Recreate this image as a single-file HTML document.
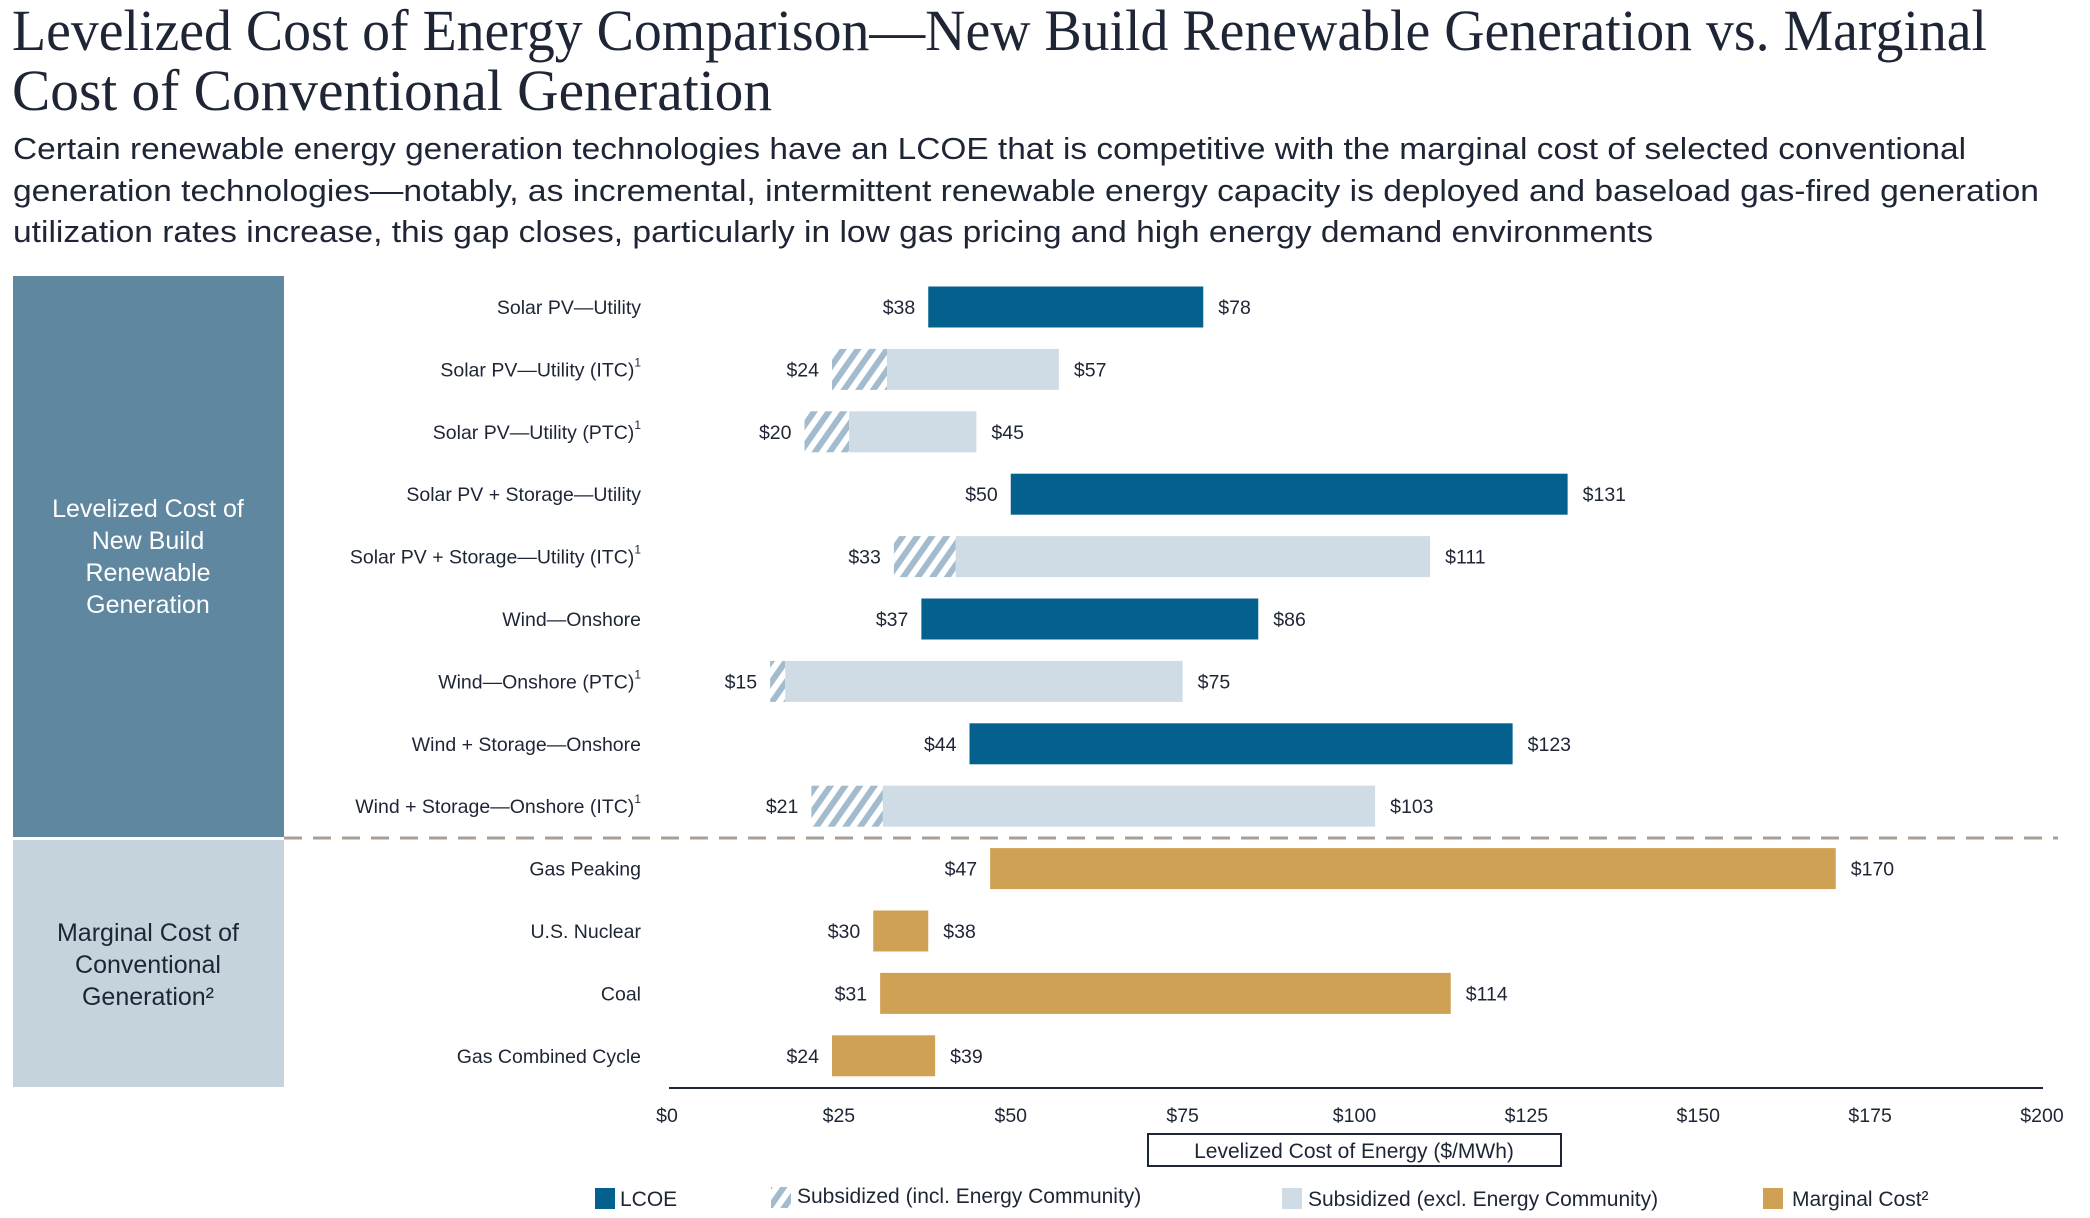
<!DOCTYPE html>
<html><head><meta charset="utf-8"><style>
html,body{margin:0;padding:0;background:#fff;}
svg{display:block;}
text{font-family:"Liberation Sans",sans-serif;fill:#1e2535;}
</style></head><body>
<svg id="chart" width="2090" height="1218" viewBox="0 0 2090 1218" xmlns="http://www.w3.org/2000/svg">
<defs>
<pattern id="hatch" patternUnits="userSpaceOnUse" width="12" height="12" patternTransform="rotate(35)">
<rect width="12" height="12" fill="#ffffff"/><rect width="6" height="12" fill="#a3bccd"/>
</pattern>
</defs>
<g>
<text x="12" y="50" style="font-family:'Liberation Serif',serif" font-size="58" textLength="1975" lengthAdjust="spacingAndGlyphs">Levelized Cost of Energy Comparison—New Build Renewable Generation vs. Marginal</text>
<text x="12" y="110" style="font-family:'Liberation Serif',serif" font-size="58" textLength="760" lengthAdjust="spacingAndGlyphs">Cost of Conventional Generation</text>
</g>
<g>
<text x="13" y="159" font-size="31" textLength="1953" lengthAdjust="spacingAndGlyphs">Certain renewable energy generation technologies have an LCOE that is competitive with the marginal cost of selected conventional</text>
<text x="13" y="201" font-size="31" textLength="2026" lengthAdjust="spacingAndGlyphs">generation technologies—notably, as incremental, intermittent renewable energy capacity is deployed and baseload gas-fired generation</text>
<text x="13" y="242" font-size="31" textLength="1640" lengthAdjust="spacingAndGlyphs">utilization rates increase, this gap closes, particularly in low gas pricing and high energy demand environments</text>
</g>
<rect x="13" y="276" width="271" height="561" fill="#5f87a0"/>
<rect x="13" y="840" width="271" height="247" fill="#c5d3dc"/>
<g font-size="25" text-anchor="middle">
<text x="148" y="517" style="fill:#fff">Levelized Cost of</text>
<text x="148" y="549" style="fill:#fff">New Build</text>
<text x="148" y="581" style="fill:#fff">Renewable</text>
<text x="148" y="613" style="fill:#fff">Generation</text>
</g>
<g font-size="25" text-anchor="middle">
<text x="148" y="941">Marginal Cost of</text>
<text x="148" y="973">Conventional</text>
<text x="148" y="1005">Generation²</text>
</g>
<line x1="284" y1="838" x2="2058" y2="838" stroke="#ab9f94" stroke-width="3" stroke-dasharray="18 11"/>
<g id="bars"></g>
<line x1="669" y1="1088" x2="2043" y2="1088" stroke="#1e2535" stroke-width="2"/>
<g id="ticks"></g>
<rect x="1148" y="1134" width="413" height="32" fill="none" stroke="#1e2535" stroke-width="2"/>
<text x="1354" y="1158" font-size="21" text-anchor="middle">Levelized Cost of Energy ($/MWh)</text>
<g font-size="21">
<rect x="595" y="1188" width="20" height="21" fill="#04618e"/>
<text x="620" y="1206">LCOE</text>
<rect x="771" y="1187" width="20" height="21" fill="url(#hatch)"/>
<text x="797" y="1203">Subsidized (incl. Energy Community)</text>
<rect x="1282" y="1188" width="20" height="21" fill="#cfdce6"/>
<text x="1308" y="1206">Subsidized (excl. Energy Community)</text>
<rect x="1763" y="1188" width="20" height="21" fill="#cfa154"/>
<text x="1792" y="1206">Marginal Cost²</text>
</g>
</svg>
<script>
const categories = ["Solar PV—Utility","Solar PV—Utility (ITC)","Solar PV—Utility (PTC)","Solar PV + Storage—Utility","Solar PV + Storage—Utility (ITC)","Wind—Onshore","Wind—Onshore (PTC)","Wind + Storage—Onshore","Wind + Storage—Onshore (ITC)","Gas Peaking","U.S. Nuclear","Coal","Gas Combined Cycle"];
const footnote = [false,true,true,false,true,false,true,false,true,false,false,false,false];
const lowValues = [38,24,20,50,33,37,15,44,21,47,30,31,24];
const highValues = [78,57,45,131,111,86,75,123,103,170,38,114,39];
const hatchEnd = [null,32,26.5,null,42,null,17.2,null,31.4,null,null,null,null];
const barType = ["lcoe","sub","sub","lcoe","sub","lcoe","sub","lcoe","sub","marg","marg","marg","marg"];
const ticks = [0,25,50,75,100,125,150,175,200];

const NS = "http://www.w3.org/2000/svg";
const X0 = 667, X1 = 2042, Y0 = 307, STEP = 62.4, BH = 41;
function xs(v){ return X0 + (X1 - X0) * v / 200; }
function yc(i){ return Y0 + i * STEP; }
function mk(tag, attrs, parent){ const e = document.createElementNS(NS, tag); for (const k in attrs) e.setAttribute(k, attrs[k]); parent.appendChild(e); return e; }
const colors = {lcoe:"#04618e", sub:"#cfdce6", marg:"#cfa154"};
const bars = document.getElementById("bars");
categories.forEach((c, i) => {
  const y = yc(i);
  const lab = mk("text", {x:641, y:y+7, "font-size":19.5, "text-anchor":"end"}, bars);
  
  
  lab.textContent = c;
  if (footnote[i]) { const s = mk("tspan", {"font-size":12, dy:-10}, lab); s.textContent = "1"; }
  const lo = lowValues[i], hi = highValues[i];
  let start = lo;
  if (hatchEnd[i] !== null) {
    const h = mk("rect", {x:xs(lo), y:y-BH/2, width:xs(hatchEnd[i])-xs(lo), height:BH, fill:"url(#hatch)"}, bars);
    
    
    start = hatchEnd[i];
  }
  const r = mk("rect", {x:xs(start), y:y-BH/2, width:xs(hi)-xs(start), height:BH, fill:colors[barType[i]]}, bars);
  
  
  const t1 = mk("text", {x:xs(lo)-13, y:y+7, "font-size":19.5, "text-anchor":"end"}, bars);
  
  
  t1.textContent = "$" + lo;
  const t2 = mk("text", {x:xs(hi)+15, y:y+7, "font-size":19.5}, bars);
  
  
  t2.textContent = "$" + hi;
});
const tg = document.getElementById("ticks");
ticks.forEach(v => {
  const t = mk("text", {x:xs(v), y:1122, "font-size":19.5, "text-anchor":"middle"}, tg);
  
  
  t.textContent = "$" + v;
});
</script>
</body></html>
